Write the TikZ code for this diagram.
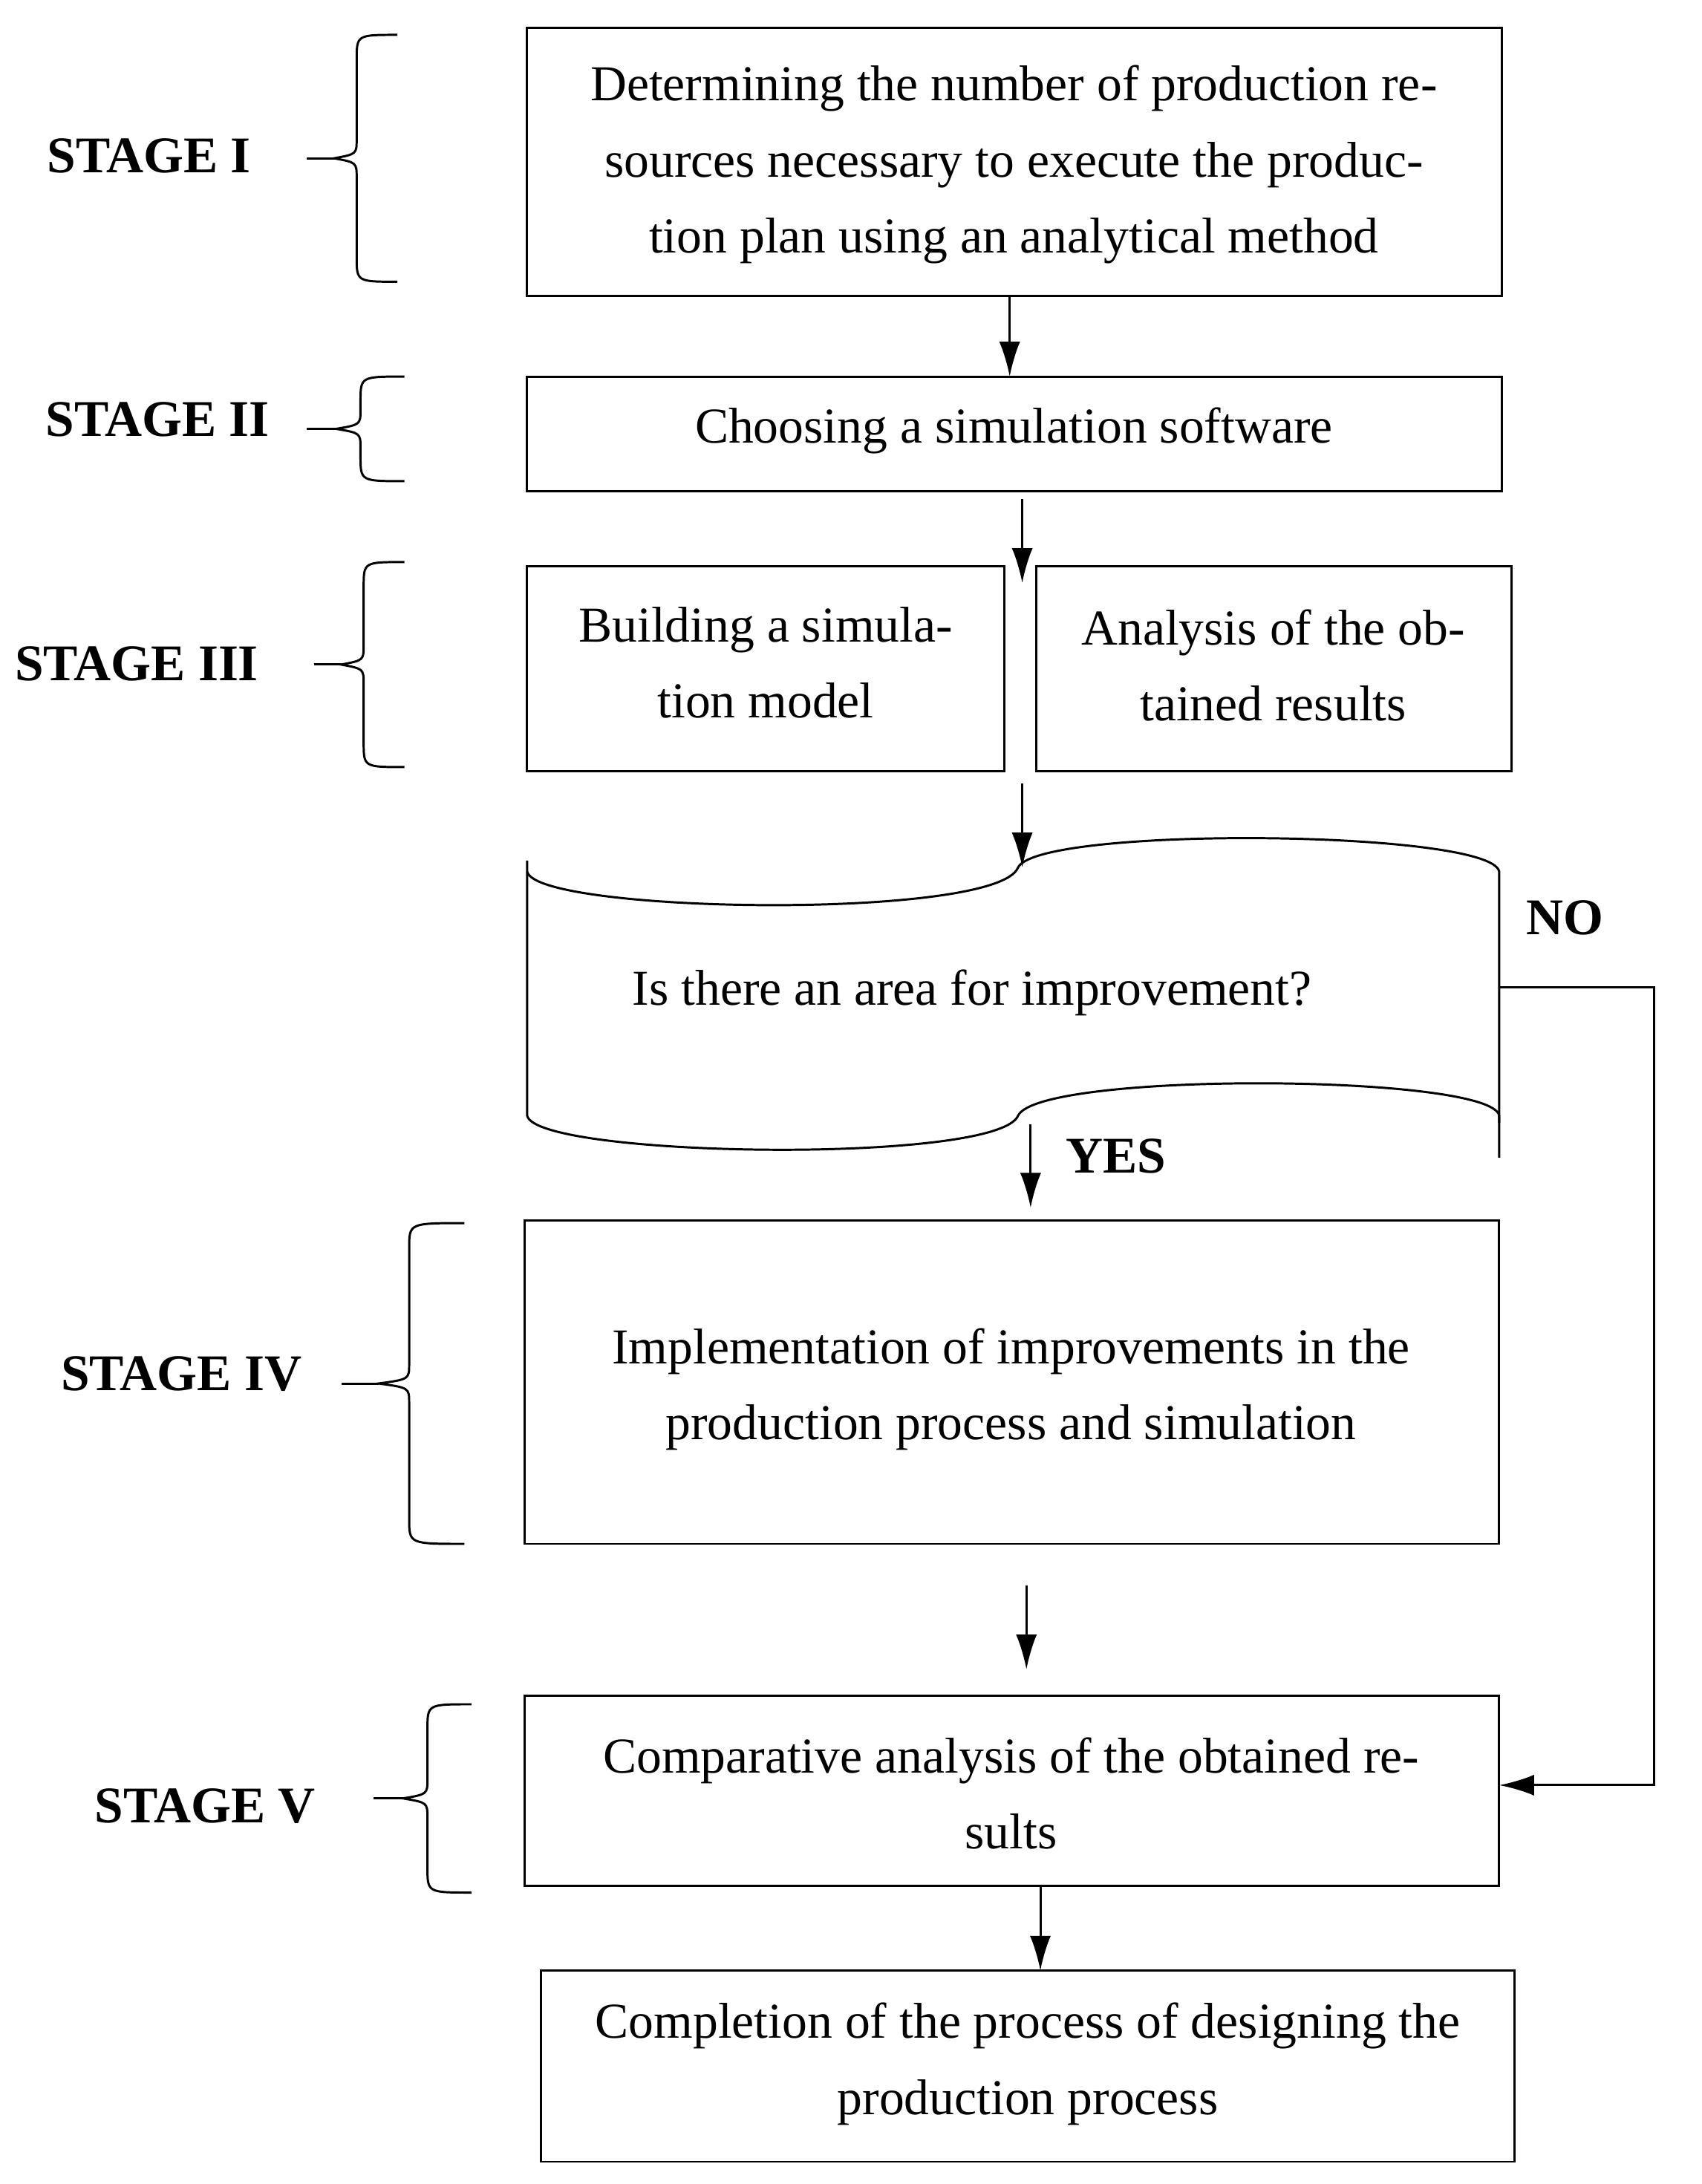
\documentclass[tikz,border=0pt]{standalone}
\usepackage{fontspec}
\setmainfont{Liberation Serif}
\usetikzlibrary{arrows.meta}
\begin{document}
\begin{tikzpicture}[x=0.02cm,y=-0.02cm,
  box/.style={draw,line width=0.9pt,inner sep=0pt},
  txt/.style={align=center,font=\fontsize{20.5}{31}\selectfont},
  stg/.style={font=\fontsize{21}{25}\selectfont\bfseries},
  arr/.style={-{Latex[length=0.5cm,width=0.3cm]},line width=0.9pt},
  br/.style={line width=0.9pt}]
\useasboundingbox (0,0) rectangle (1220,1566);
\draw[box] (378,20) rectangle (1077,212);
\node[txt] (t1) at (727,118) {Determining the number of production re-\\sources necessary to execute the produc-\\tion plan using an analytical method};
\draw[box] (378,270) rectangle (1077,352);
\node[txt] (t2) at (727,309) {Choosing a simulation software};
\draw[box] (378,406) rectangle (720,553);
\node[txt] (t3a) at (549,475) {Building a simula-\\tion model};
\draw[box] (743,406) rectangle (1084,553);
\node[txt] (t3b) at (913,477) {Analysis of the ob-\\tained results};
% document-like shape
\draw[line width=0.9pt] (378,617) -- (378,800)
  .. controls (385,830) and (715,835) .. (730,800)
  .. controls (745,768) and (1070,770) .. (1075,800) -- (1075,830);
\draw[line width=0.9pt] (378,625)
  .. controls (385,655) and (715,660) .. (730,622)
  .. controls (745,592) and (1070,595) .. (1075,625) -- (1075,805);
\node[txt] (q) at (697,712) {Is there an area for improvement?};
\draw[box] (376,875) rectangle (1075,1107);
\node[txt] (t4) at (725,996) {Implementation of improvements in the\\production process and simulation};
\draw[box] (376,1216) rectangle (1075,1352);
\node[txt] (t5) at (725,1286) {Comparative analysis of the obtained re-\\sults};
\draw[box] (388,1413) rectangle (1086,1550);
\node[txt] (t6) at (737,1480) {Completion of the process of designing the\\production process};
% arrows
\coordinate (a1) at (724,212); \coordinate (b1) at (724,270);
\coordinate (a2) at (733,358); \coordinate (b2) at (733,418);
\coordinate (a3) at (733,562); \coordinate (b3) at (733,622);
\coordinate (a4) at (739,806); \coordinate (b4) at (739,866);
\coordinate (a5) at (736,1137); \coordinate (b5) at (736,1197);
\coordinate (a6) at (746,1352); \coordinate (b6) at (746,1413);
\foreach \i in {1,...,6} \draw[arr] (a\i) -- (b\i);
\coordinate (n1) at (1075,708); \coordinate (n2) at (1075,1280);
\draw[arr] (n1) -- (1186,708) -- (1186,1280) -- (n2);
\node[stg] (no) at (1122,658) {NO};
\node[stg] (yes) at (800,829) {YES};
% stages
\node[stg] (s1) at (107,112) {STAGE I};
\node[stg] (s2) at (113,301) {STAGE II};
\node[stg] (s3) at (98,476) {STAGE III};
\node[stg] (s4) at (130,985) {STAGE IV};
\node[stg] (s5) at (147,1295) {STAGE V};
\foreach \xa/\xb/\ya/\yb in {220/285/25/202, 220/290/270/345, 225/290/403/550, 245/333/877/1107, 268/338/1222/1357}{
  \pgfmathsetmacro{\xm}{\xa+0.55*(\xb-\xa)}
  \pgfmathsetmacro{\xt}{\xa+0.3*(\xb-\xa)}
  \pgfmathsetmacro{\ym}{(\ya+\yb)/2}
  \pgfmathsetmacro{\yA}{\ya+18}
  \pgfmathsetmacro{\yB}{\ym-14}
  \pgfmathsetmacro{\yC}{\ym-3}
  \pgfmathsetmacro{\yD}{\ym+3}
  \pgfmathsetmacro{\yE}{\ym+14}
  \pgfmathsetmacro{\yF}{\yb-18}
  \draw[br] (\xb,\ya) .. controls (\xm,\ya) and (\xm,\ya) .. (\xm,\yA)
    -- (\xm,\yB) .. controls (\xm,\yC) .. (\xt,\ym)
    .. controls (\xm,\yD) .. (\xm,\yE) -- (\xm,\yF)
    .. controls (\xm,\yb) and (\xm,\yb) .. (\xb,\yb);
  \draw[br] (\xa,\ym) -- (\xt,\ym);
}
\end{tikzpicture}
\end{document}
